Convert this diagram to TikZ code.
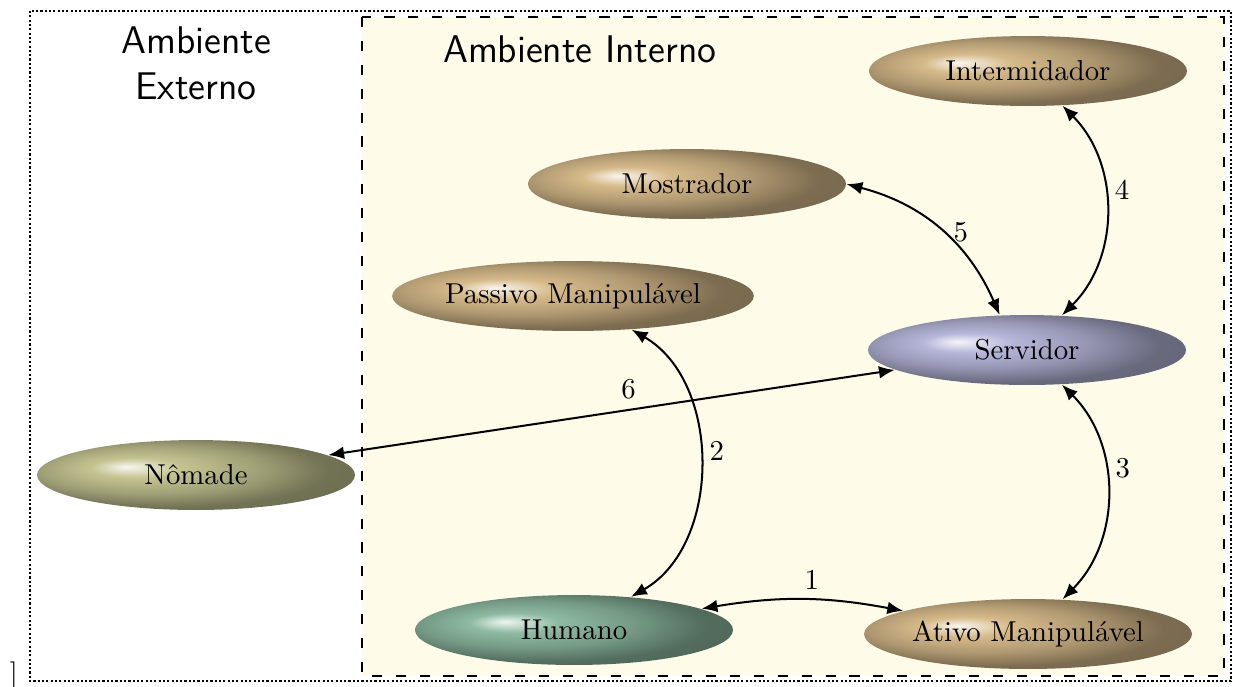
\documentclass[tikz,border=0pt]{standalone}
\usetikzlibrary{arrows.meta,shapes.geometric,topaths}

% palette
\definecolor{creamfill}{RGB}{254,251,233}
\definecolor{tanbase}{RGB}{214,186,138}
\definecolor{servbase}{RGB}{182,182,218}
\definecolor{nombase}{RGB}{196,196,146}
\definecolor{humbase}{RGB}{142,186,162}

% glossy radial shading whose colour follows orbc
% (the inner 50bp square of the shading is what covers the shape)
\colorlet{orbc}{gray}
\pgfdeclareradialshading[orbc]{orb}{\pgfpoint{-11bp}{6bp}}{%
  color(0bp)=(orbc!15!white);
  color(7bp)=(orbc);
  color(17bp)=(orbc!82!black);
  color(26bp)=(orbc!58!black);
  color(50bp)=(orbc!50!black)}

\tikzset{
  set orb/.code={\colorlet{orbc}{#1}},
  entity/.style={set orb=#1, shading=orb, ellipse,
    minimum width=110.5pt, minimum height=24.3pt,
    inner xsep=0pt, inner ysep=0pt, font=\normalsize},
  link/.style={{Latex[length=5.5pt,width=4.4pt]}-{Latex[length=5.5pt,width=4.4pt]},
    line width=0.7pt},
  tag/.style={font=\normalsize},
  heading/.style={font=\sffamily\fontsize{13.4}{16}\selectfont}
}

\begin{document}
\begin{tikzpicture}[x=0.3475pt, y=-0.3475pt]
  \useasboundingbox (0,0) rectangle (1235,686);

  % inner environment area
  \fill[creamfill] (362,17) rectangle (1224,676);
  \draw[line width=0.8pt, dash pattern=on 0.75pt off 0.75pt] (30,11) rectangle (1231,681);
  \draw[line width=0.8pt, dash pattern=on 3.5pt off 4.8pt] (362,17) rectangle (1224,676);

  \node[heading, align=center] (extlabel) at (196,63) {Ambiente\\Externo};
  \node[heading, anchor=west] (intlabel) at (433,49) {Ambiente Interno};
  \node[tag, anchor=base, inner sep=0pt] (bracket) at (14,683.6) {]};

  % entities
  \node[entity=tanbase]  (inter) at (1028,71)  {Intermidador};
  \node[entity=tanbase]  (most)  at (687,184)  {Mostrador};
  \node[entity=tanbase]  (pass)  at (573,296)  {Passivo Manipulável};
  \node[entity=servbase] (serv)  at (1027,350) {Servidor};
  \node[entity=nombase]  (nom)   at (196,475)  {Nômade};
  \node[entity=humbase]  (hum)   at (574,630)  {Humano};
  \node[entity=tanbase]  (ativo) at (1028,634) {Ativo Manipulável};

  % interactions
  \draw[link] (hum)   to[bend left=10] node[tag, above, pos=0.55] {1} (ativo);
  \draw[link] (pass)  to[bend left=60] node[tag, right, pos=0.46] {2} (hum);
  \draw[link] (serv)  to[bend left=45] node[tag, right, pos=0.4] {3} (ativo);
  \draw[link] (inter) to[bend left=45] node[tag, right, pos=0.41] {4} (serv);
  \draw[link] (most)  to[bend left=26] node[tag, right, pos=0.52] {5} (serv);
  \draw[link] (serv)  -- node[tag, above, pos=0.47] {6} (nom);
\end{tikzpicture}
\end{document}
